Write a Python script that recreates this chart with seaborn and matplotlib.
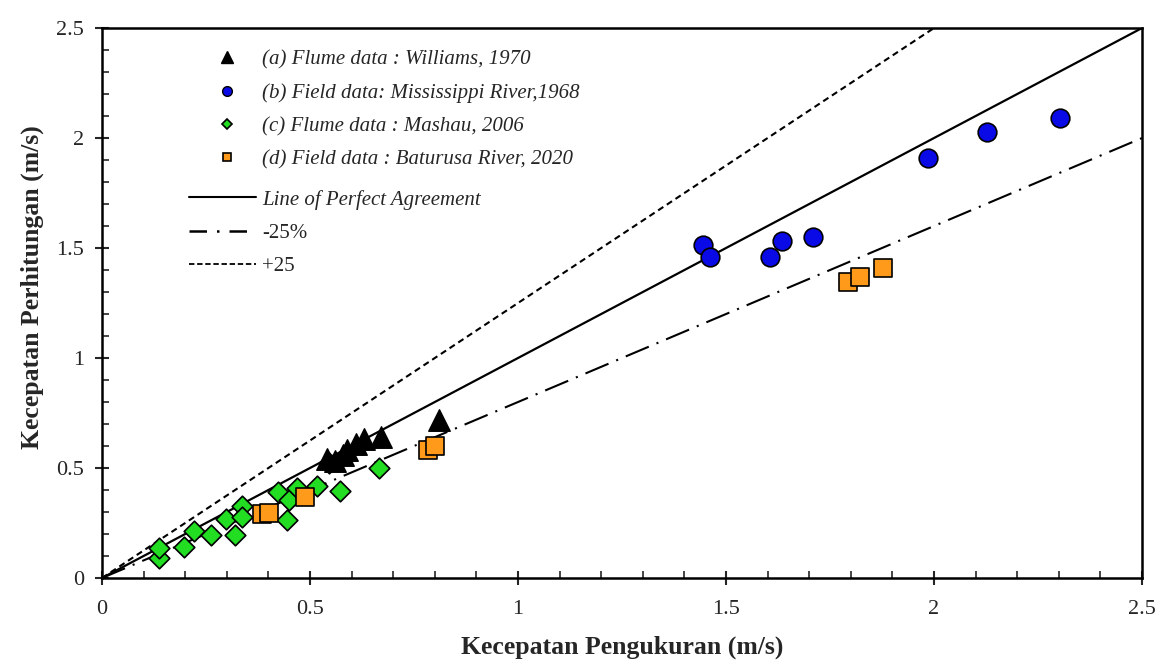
import seaborn as sns
import matplotlib.pyplot as plt
from matplotlib.lines import Line2D
from matplotlib.ticker import MultipleLocator

williams_x = [0.54, 0.56, 0.58, 0.59, 0.61, 0.63, 0.67, 0.81]
williams_y = [0.54, 0.53, 0.56, 0.58, 0.61, 0.63, 0.64, 0.72]

miss_x = [1.444, 1.462, 1.606, 1.634, 1.709, 1.985, 2.127, 2.303]
miss_y = [1.514, 1.460, 1.459, 1.533, 1.551, 1.911, 2.029, 2.090]

mashau_x = [0.138, 0.138, 0.198, 0.221, 0.261, 0.298, 0.320, 0.336, 0.336,
            0.424, 0.444, 0.450, 0.470, 0.516, 0.546, 0.572, 0.667]
mashau_y = [0.089, 0.135, 0.142, 0.215, 0.195, 0.267, 0.195, 0.327, 0.279,
            0.392, 0.264, 0.355, 0.408, 0.418, 0.524, 0.395, 0.501]

baturusa_x = [0.384, 0.402, 0.488, 0.785, 0.800, 1.793, 1.822, 1.877]
baturusa_y = [0.291, 0.297, 0.370, 0.582, 0.600, 1.347, 1.368, 1.408]

line_x = [0, 2.5]
perfect_y = [0, 2.5]
minus25_y = [0, 2.0]
plus25_x = [0, 2.0]
plus25_y = [0, 2.5]

data_labels = ['(a) Flume data : Williams, 1970',
               '(b) Field data: Mississippi River,1968',
               '(c) Flume data : Mashau, 2006',
               '(d) Field data : Baturusa River, 2020']
line_labels = ['Line of Perfect Agreement', '-25%', '+25']

sns.set_style('white')
plt.rcParams['font.family'] = ['Liberation Serif', 'DejaVu Serif']

fig, ax = plt.subplots(figsize=(11.76, 6.69), dpi=100)
fig.subplots_adjust(left=0.0867, right=0.971, bottom=0.136, top=0.958)

# reference lines
ax.plot(line_x, perfect_y, color='black', lw=1.6, zorder=2)
ax.plot(line_x, minus25_y, color='black', lw=1.5, ls=(0, (12, 4, 1, 4)), zorder=2)
ax.plot(plus25_x, plus25_y, color='black', lw=1.5, ls=(0, (3, 2)), zorder=2)

sns.scatterplot(x=mashau_x, y=mashau_y, marker='D', s=110, color='#22dd22',
                edgecolor='black', linewidth=1.2, ax=ax, zorder=3)
sns.scatterplot(x=baturusa_x, y=baturusa_y, marker='s', s=150, color='#ff9a1a',
                edgecolor='black', linewidth=1.2, ax=ax, zorder=3)
sns.scatterplot(x=williams_x, y=williams_y, marker='^', s=240, color='black',
                edgecolor='black', linewidth=1, ax=ax, zorder=4)
sns.scatterplot(x=miss_x, y=miss_y, marker='o', s=180, color='#0a0ae6',
                edgecolor='black', linewidth=1.2, ax=ax, zorder=3)

ax.set_xlim(0, 2.5)
ax.set_ylim(0, 2.5)
ax.xaxis.set_minor_locator(MultipleLocator(0.1))
ax.yaxis.set_minor_locator(MultipleLocator(0.1))
ax.set_xticks([0, 0.5, 1, 1.5, 2, 2.5], ['0', '0.5', '1', '1.5', '2', '2.5'])
ax.set_yticks([0, 0.5, 1, 1.5, 2, 2.5], ['0', '0.5', '1', '1.5', '2', '2.5'])
ax.tick_params(which='major', direction='inout', length=10, width=1.5,
               labelsize=16, pad=8)
ax.tick_params(axis='x', which='major', pad=11)
ax.tick_params(which='minor', direction='in', length=5, width=1.2)
ax.tick_params(left=True, bottom=True, which='both')
for sp in ax.spines.values():
    sp.set_color('black')
    sp.set_linewidth(1.8)

ax.set_xlabel('Kecepatan Pengukuran (m/s)', fontsize=18.5, fontweight='bold', labelpad=12)
ax.set_ylabel('Kecepatan Perhitungan (m/s)', fontsize=18.5, fontweight='bold')
ax.yaxis.set_label_coords(-0.056, 0.529)

data_handles = [
    Line2D([], [], ls='none', marker='^', ms=8, color='black'),
    Line2D([], [], ls='none', marker='o', ms=7, mfc='#0a0ae6', mec='black'),
    Line2D([], [], ls='none', marker='D', ms=5, mfc='#22dd22', mec='black', mew=1.2),
    Line2D([], [], ls='none', marker='s', ms=6, mfc='#ff9a1a', mec='black', mew=1.2),
]
line_handles = [
    Line2D([], [], color='black', lw=1.5),
    Line2D([], [], color='black', lw=1.8, ls=(0, (7, 4, 1, 4))),
    Line2D([], [], color='black', lw=1.3, ls=(0, (3, 1.5))),
]
leg_kw = dict(loc='upper left', frameon=False, handletextpad=0.3, labelspacing=0.66)
leg1 = ax.legend(data_handles, data_labels, bbox_to_anchor=(0.0756, 0.9945),
                 handlelength=2.7, prop={'style': 'italic', 'size': 15}, **leg_kw)
ax.add_artist(leg1)
leg2 = ax.legend(line_handles, line_labels, bbox_to_anchor=(0.066, 0.74),
                 handlelength=3.2, prop={'size': 15}, **leg_kw)
leg2.get_texts()[0].set_fontstyle('italic')

fig.savefig('out.png', dpi=100)
